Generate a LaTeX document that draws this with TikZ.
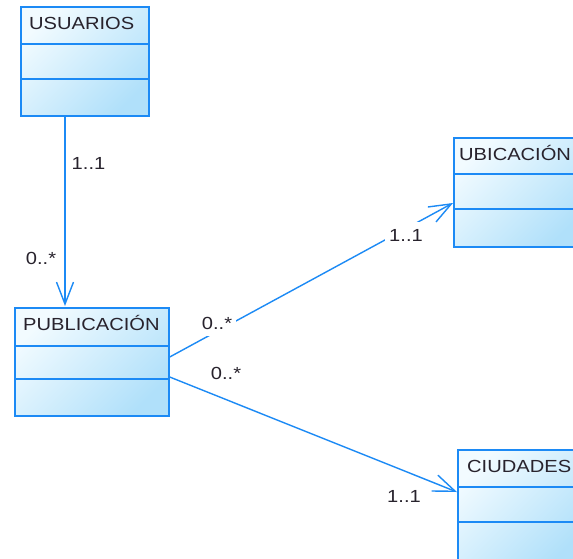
\documentclass[tikz,border=0pt]{standalone}
\usepackage{fontspec}
\newfontfamily\umlfont[FakeStretch=1.15]{Liberation Sans}
\usetikzlibrary{arrows.meta,calc}
\definecolor{umlblue}{RGB}{28,138,245}
\definecolor{umlpale}{RGB}{242,251,255}
\definecolor{umlsky}{RGB}{176,224,250}
\definecolor{umlink}{RGB}{40,35,45}
\tikzset{
  classbox/.style={rectangle, draw=umlblue, line width=1.7pt,
    top color=umlpale, bottom color=umlsky, shading angle=45,
    inner sep=0pt, anchor=north west},
  compsep/.style={draw=umlblue, line width=1.7pt},
  classname/.style={font=\umlfont\fontsize{17.5}{20}\selectfont, text=umlink,
    anchor=base west, inner sep=0pt},
  mult/.style={font=\umlfont\fontsize{17.5}{20}\selectfont, text=umlink, inner sep=0pt},
  gapmult/.style={mult, fill=white, inner xsep=4pt, inner ysep=7pt},
  assoc/.style={draw=umlblue, line width=1.4pt,
    -{Straight Barb[length=22pt,width=17pt]}},
}
\begin{document}
\begin{tikzpicture}[x=1pt,y=-1pt]
\useasboundingbox (0,0) rectangle (573,558);
\clip (0,0) rectangle (573,558);
\fill[white] (0,0) rectangle (573,558);

% class boxes with three compartments
\node[classbox, minimum width=128pt, minimum height=109pt] (usu) at (20,6) {};
\draw[compsep] ($(usu.north west)+(0,38)$) -- ($(usu.north east)+(0,38)$);
\draw[compsep] ($(usu.north west)+(0,73)$) -- ($(usu.north east)+(0,73)$);
\node[classname] (usuname) at ($(usu.north west)+(9,23)$) {USUARIOS};

\node[classbox, minimum width=154pt, minimum height=108pt] (pub) at (14,307) {};
\draw[compsep] ($(pub.north west)+(0,39)$) -- ($(pub.north east)+(0,39)$);
\draw[compsep] ($(pub.north west)+(0,72)$) -- ($(pub.north east)+(0,72)$);
\node[classname] (pubname) at ($(pub.north west)+(9,23)$) {PUBLICACIÓN};

\node[classbox, minimum width=130pt, minimum height=109pt] (ubi) at (453,137) {};
\draw[compsep] ($(ubi.north west)+(0,37)$) -- ($(ubi.north east)+(0,37)$);
\draw[compsep] ($(ubi.north west)+(0,72)$) -- ($(ubi.north east)+(0,72)$);
\node[classname] (ubiname) at ($(ubi.north west)+(6,23)$) {UBICACIÓN};

\node[classbox, minimum width=130pt, minimum height=112pt] (ciu) at (457,449) {};
\draw[compsep] ($(ciu.north west)+(0,38)$) -- ($(ciu.north east)+(0,38)$);
\draw[compsep] ($(ciu.north west)+(0,73)$) -- ($(ciu.north east)+(0,73)$);
\node[classname] (ciuname) at ($(ciu.north west)+(10,23)$) {CIUDADES};

% associations
\draw[assoc] ($(usu.south west)+(45,0)$) -- ($(pub.north west)+(51,-1)$);
\draw[assoc] ($(pub.north east)+(0,50)$) -- ($(ubi.north west)+(0,66)$);
\draw[assoc] ($(pub.north east)+(0,70)$) -- ($(ciu.north west)+(0,43)$);

% multiplicities
\node[mult] (m1) at (88.5,163) {1..1};
\node[mult] (m2) at (41,258) {0..*};
\node[gapmult] (m3) at (217,323) {0..*};
\node[gapmult] (m4) at (406,235) {1..1};
\node[mult] (m5) at (226,373) {0..*};
\node[mult] (m6) at (404,496) {1..1};
\end{tikzpicture}
\end{document}
